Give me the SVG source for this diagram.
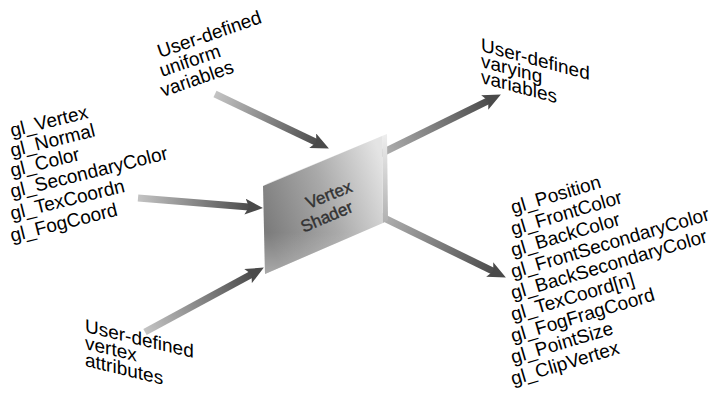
<svg xmlns="http://www.w3.org/2000/svg" width="724" height="400" viewBox="0 0 724 400">
  <style>
    .lbl { font-family: "Liberation Sans", Arial, sans-serif; font-size: 19px; fill: #000; }
    .box-lbl { font-family: "Liberation Sans", Arial, sans-serif; font-size: 17px; fill: #333; stroke: #333; stroke-width: 0.4; text-anchor: middle; }
    .shaft { fill: none; stroke-width: 7; stroke-linecap: butt; marker-end: url(#head); }
  </style>
  <defs>
    <marker id="head" markerUnits="userSpaceOnUse" viewBox="0 0 18 16" markerWidth="18" markerHeight="16" refX="7" refY="8" orient="auto">
      <path d="M0,0 L18,8 L0,16 L4,8 Z" fill="#4a4a4a"/>
    </marker>
    <linearGradient id="ag">
      <stop offset="0" stop-color="#c4c4c4"/>
      <stop offset="1" stop-color="#4a4a4a"/>
    </linearGradient>
    <linearGradient id="g1" href="#ag" gradientUnits="userSpaceOnUse" x1="215" y1="94" x2="319" y2="144"/>
    <linearGradient id="g2" href="#ag" gradientUnits="userSpaceOnUse" x1="138" y1="198" x2="252" y2="207"/>
    <linearGradient id="g3" href="#ag" gradientUnits="userSpaceOnUse" x1="145" y1="332" x2="254" y2="273"/>
    <linearGradient id="g4" href="#ag" gradientUnits="userSpaceOnUse" x1="360" y1="164" x2="491" y2="99"/>
    <linearGradient id="g5" href="#ag" gradientUnits="userSpaceOnUse" x1="360" y1="207" x2="496" y2="273"/>
    <linearGradient id="face" x1="0" y1="0.6" x2="1" y2="0.2">
      <stop offset="0" stop-color="#7c7c7c"/>
      <stop offset="0.5" stop-color="#a9a9a9"/>
      <stop offset="1" stop-color="#e4e4e4"/>
    </linearGradient>
    <linearGradient id="faceBottom" x1="0" y1="0" x2="0" y2="1">
      <stop offset="0.7" stop-color="#ffffff" stop-opacity="0"/>
      <stop offset="1" stop-color="#ffffff" stop-opacity="0.35"/>
    </linearGradient>
    <linearGradient id="side" x1="0" y1="0" x2="0" y2="1">
      <stop offset="0" stop-color="#eeeeee"/>
      <stop offset="1" stop-color="#b0b0b0"/>
    </linearGradient>
  </defs>

  <g id="connectors">
    <line class="shaft" stroke="url(#g1)" x1="215" y1="94" x2="319" y2="143.7"/>
    <line class="shaft" stroke="url(#g2)" x1="138" y1="198" x2="252" y2="207.2"/>
    <line class="shaft" stroke="url(#g3)" x1="145" y1="332" x2="254.2" y2="272.8"/>
    <line class="shaft" stroke="url(#g4)" x1="380" y1="154" x2="491" y2="99.4"/>
    <line class="shaft" stroke="url(#g5)" x1="380" y1="216" x2="496" y2="272.6"/>
  </g>

  <g id="vertex-shader">
    <polygon points="263,186 268,183 387,134 382,136" fill="#e8e8e8"/>
    <polygon points="382,136 387,134 388,220 383,223" fill="url(#side)"/>
    <polygon points="263,186 382,136 383,223 265,274" fill="url(#face)"/>
    <polygon points="263,186 382,136 383,223 265,274" fill="url(#faceBottom)"/>
    <text class="box-lbl" transform="translate(331,200) rotate(-22)">Vertex</text>
    <text class="box-lbl" transform="translate(329,222) rotate(-23)">Shader</text>
  </g>

  <g id="uniform-variables">
    <text class="lbl" transform="translate(160,58) rotate(-19)">User-defined</text>
    <text class="lbl" transform="translate(162,77) rotate(-19)">uniform</text>
    <text class="lbl" transform="translate(163,97) rotate(-19)">variables</text>
  </g>

  <g id="builtin-attributes">
    <text class="lbl" transform="translate(12,137) rotate(-14)">gl_Vertex</text>
    <text class="lbl" transform="translate(12,157) rotate(-14)">gl_Normal</text>
    <text class="lbl" transform="translate(12,177) rotate(-14)">gl_Color</text>
    <text class="lbl" transform="translate(12,198) rotate(-14)">gl_SecondaryColor</text>
    <text class="lbl" transform="translate(12,220) rotate(-14)">gl_TexCoordn</text>
    <text class="lbl" transform="translate(12,242) rotate(-14)">gl_FogCoord</text>
  </g>

  <g id="vertex-attributes">
    <text class="lbl" transform="translate(85,332) skewY(13.5)">User-defined</text>
    <text class="lbl" transform="translate(85,349) skewY(13.5)">vertex</text>
    <text class="lbl" transform="translate(85,366) skewY(13.5)">attributes</text>
  </g>

  <g id="varying-variables">
    <text class="lbl" transform="translate(481,51) skewY(15)">User-defined</text>
    <text class="lbl" transform="translate(481,67) skewY(15)">varying</text>
    <text class="lbl" transform="translate(481,83) skewY(15)">variables</text>
  </g>

  <g id="builtin-outputs">
    <text class="lbl" transform="translate(513,214) rotate(-16.5)">gl_Position</text>
    <text class="lbl" transform="translate(513,235.4) rotate(-16.5)">gl_FrontColor</text>
    <text class="lbl" transform="translate(513,256.8) rotate(-16.5)">gl_BackColor</text>
    <text class="lbl" transform="translate(513,278.2) rotate(-16.5)">gl_FrontSecondaryColor</text>
    <text class="lbl" transform="translate(513,299.6) rotate(-16.5)">gl_BackSecondaryColor</text>
    <text class="lbl" transform="translate(513,321) rotate(-16.5)">gl_TexCoord[n]</text>
    <text class="lbl" transform="translate(513,342.4) rotate(-16.5)">gl_FogFragCoord</text>
    <text class="lbl" transform="translate(513,363.8) rotate(-16.5)">gl_PointSize</text>
    <text class="lbl" transform="translate(513,385.2) rotate(-16.5)">gl_ClipVertex</text>
  </g>
</svg>
